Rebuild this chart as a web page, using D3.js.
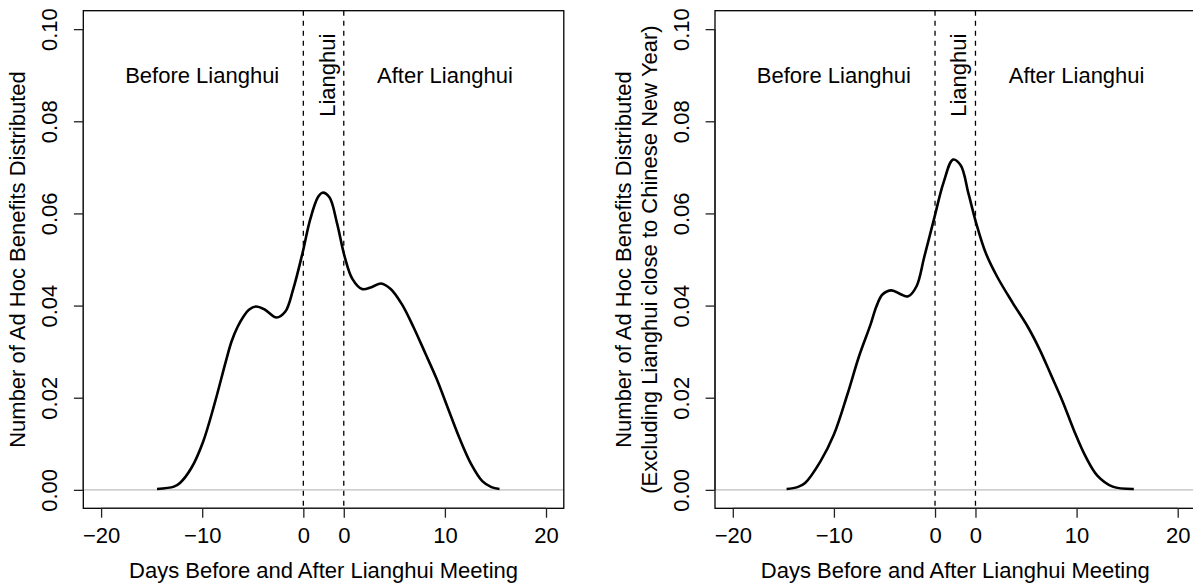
<!DOCTYPE html>
<html><head><meta charset="utf-8">
<script src="https://cdn.jsdelivr.net/npm/d3@7"></script>
<style>
html,body{margin:0;padding:0;background:#fff;overflow:hidden}
text{font-family:"Liberation Sans",Arial,Helvetica,sans-serif;fill:#000}
</style>
</head><body>
<svg id="chart" width="1193" height="583"></svg>
<script>
// ---- data ----
const xTickValues = [-20, -10, 0, 4, 14, 24];
const xTickLabels = ["\u221220", "\u221210", "0", "0", "10", "20"];
const yTickValues = [0, 0.02, 0.04, 0.06, 0.08, 0.10];
const yTickLabels = ["0.00", "0.02", "0.04", "0.06", "0.08", "0.10"];
const xLimits = [-20, 24];
const yLimits = [0, 0.10];
const lianghuiBounds = [0, 4];
const regionLabels = ["Before Lianghui", "Lianghui", "After Lianghui"];
const regionLabelX = [-10, 2.35, 14];
const regionLabelY = 0.09;
const xTitle = "Days Before and After Lianghui Meeting";
const yTitleAll = ["Number of Ad Hoc Benefits Distributed"];
const yTitleExcl = ["Number of Ad Hoc Benefits Distributed", "(Excluding Lianghui close to Chinese New Year)"];

const allDays = [-14.47, -12.8, -12.2, -11.06, -9.92, -8.79, -7.65, -7.1, -6.52, -5.9, -5.38, -4.7, -3.86, -2.65, -1.78, -1.02, -0.08, 0.68, 1.44, 1.89, 2.58, 3.33, 4.09, 4.85, 5.8, 6.74, 7.69, 8.64, 9.77, 10.9, 12.05, 13.18, 14.32, 15.45, 16.6, 17.7, 18.6, 19.4];
const allDensity = [0.0002, 0.0007, 0.0015, 0.0048, 0.0104, 0.0186, 0.0280, 0.0322, 0.0353, 0.0377, 0.0391, 0.0398, 0.0392, 0.0374, 0.0387, 0.0434, 0.0514, 0.0587, 0.0635, 0.0645, 0.0635, 0.0579, 0.0506, 0.0458, 0.0436, 0.0440, 0.0448, 0.0436, 0.0402, 0.0353, 0.0297, 0.0241, 0.0176, 0.0112, 0.0056, 0.0019, 0.0006, 0.0002];

const exclDays = [-14.68, -13.6, -12.85, -11.33, -10.0, -8.67, -7.53, -6.39, -5.8, -5.2, -4.3, -3.35, -2.66, -1.83, -1.06, -0.11, 0.84, 1.79, 2.55, 3.31, 4.07, 5.02, 6.16, 7.68, 9.2, 10.34, 11.48, 12.62, 13.76, 14.9, 16.05, 17.57, 19.66];
const exclDensity = [0.0002, 0.0006, 0.0015, 0.0062, 0.0120, 0.0207, 0.0289, 0.0358, 0.0398, 0.0424, 0.0433, 0.0424, 0.0420, 0.0442, 0.0506, 0.0587, 0.0667, 0.0717, 0.0704, 0.0643, 0.0579, 0.0514, 0.0462, 0.0406, 0.0353, 0.0305, 0.0249, 0.0192, 0.0128, 0.0072, 0.0031, 0.0007, 0.0002];

// ---- layout ----
const FS = 22;
const boxW = 480.5, boxH = 497.6;
const svg = d3.select("#chart");

function drawPanel(ox, oy, days, dens, yTitleLines) {
  const g = svg.append("g").attr("transform", `translate(${ox},${oy})`);
  const xs = xLimits[1] - xLimits[0], ysp = yLimits[1] - yLimits[0];
  const x = d3.scaleLinear().domain([xLimits[0] - 0.04 * xs, xLimits[1] + 0.04 * xs]).range([0, boxW]);
  const y = d3.scaleLinear().domain([yLimits[0] - 0.04 * ysp, yLimits[1] + 0.04 * ysp]).range([boxH, 0]);

  // gray zero line
  g.append("line").attr("x1", 0).attr("x2", boxW).attr("y1", y(0)).attr("y2", y(0))
    .attr("stroke", "#bebebe").attr("stroke-width", 1.3);

  // dashed lianghui bounds
  lianghuiBounds.forEach(b => {
    g.append("line").attr("x1", x(b)).attr("x2", x(b)).attr("y1", 0).attr("y2", boxH)
      .attr("stroke", "#000").attr("stroke-width", 1.3).attr("stroke-dasharray", "5,5");
  });

  // density curve
  const line = d3.line().x((d, i) => x(days[i])).y((d, i) => y(dens[i])).curve(d3.curveCatmullRom.alpha(0.5));
  g.append("path").datum(dens).attr("d", line).attr("fill", "none")
    .attr("stroke", "#000").attr("stroke-width", 2.6).attr("stroke-linejoin", "round");

  // box
  g.append("rect").attr("x", 0).attr("y", 0).attr("width", boxW).attr("height", boxH)
    .attr("fill", "none").attr("stroke", "#000").attr("stroke-width", 1.3);

  // x axis
  const xa = g.append("g").attr("transform", `translate(0,${boxH})`)
    .call(d3.axisBottom(x).tickValues(xTickValues).tickFormat((d, i) => xTickLabels[i]).tickSize(9.4).tickPadding(9.3).tickSizeOuter(0));
  xa.select(".domain").attr("d", `M${x(xTickValues[0])},0H${x(xTickValues[xTickValues.length - 1])}`);
  xa.selectAll("path,line").attr("stroke", "#222").attr("stroke-width", 1.3);
  xa.selectAll("text").attr("font-size", FS).attr("font-family", null).attr("fill", "#000");

  // y axis
  const ya = g.append("g")
    .call(d3.axisLeft(y).tickValues(yTickValues).tickFormat((d, i) => yTickLabels[i]).tickSize(9.4).tickSizeOuter(0));
  ya.select(".domain").attr("d", `M0,${y(yTickValues[0])}V${y(yTickValues[yTickValues.length - 1])}`);
  ya.selectAll("path,line").attr("stroke", "#222").attr("stroke-width", 1.3);
  ya.selectAll("text").attr("font-size", FS).attr("font-family", null).attr("fill", "#000")
    .attr("transform", "rotate(-90)").attr("x", 0).attr("y", -26).attr("dy", 0).attr("text-anchor", "middle");

  // region labels
  regionLabels.forEach((t, i) => {
    const tx = x(regionLabelX[i]), ty = y(regionLabelY);
    const el = g.append("text").attr("font-size", FS).attr("text-anchor", "middle").text(t);
    if (i === 1) {
      el.attr("transform", `translate(${tx},${ty}) rotate(-90)`).attr("dy", "0.35em");
    } else {
      el.attr("x", tx).attr("y", ty).attr("dy", "0.35em");
    }
  });

  // x title
  g.append("text").attr("font-size", FS).attr("text-anchor", "middle")
    .attr("x", boxW / 2).attr("y", boxH + 69.7).text(xTitle);

  // y title
  const n = yTitleLines.length;
  yTitleLines.forEach((t, i) => {
    const off = -58 - (n - 1 - i) * 26.4;
    g.append("text").attr("font-size", FS).attr("text-anchor", "middle")
      .attr("transform", `translate(${off},${boxH / 2}) rotate(-90)`).text(t);
  });
}

drawPanel(83.3, 10.7, allDays, allDensity, yTitleAll);
drawPanel(715, 10.7, exclDays, exclDensity, yTitleExcl);
</script>
</body></html>
